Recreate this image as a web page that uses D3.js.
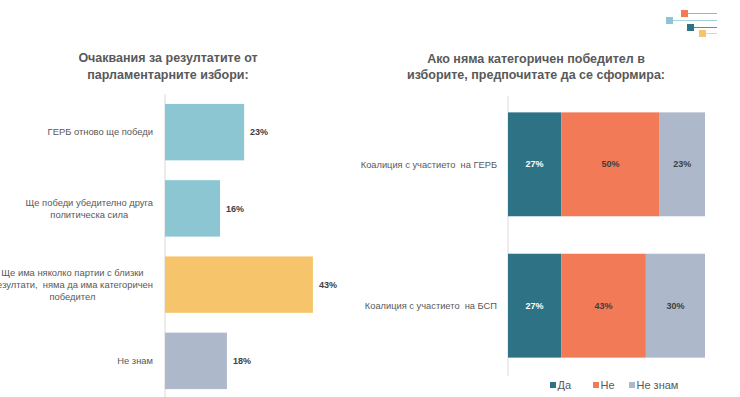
<!DOCTYPE html>
<html>
<head>
<meta charset="utf-8">
<script src="https://cdn.jsdelivr.net/npm/d3@7"></script>
<style>
  html, body { margin: 0; padding: 0; background: #fff; }
  svg { display: block; font-family: "Liberation Sans", Arial, sans-serif; }
  .pre { white-space: pre; }
</style>
</head>
<body>
<svg id="chart" width="740" height="397"></svg>
<script>
// left chart: expectations
const leftTitle = ['Очаквания за резултатите от', 'парламентарните избори:'];
const leftCategories = [
  ['ГЕРБ отново ще победи'],
  ['Ще победи убедително друга', 'политическа сила'],
  ['Ще има няколко партии с близки', 'резултати,  няма да има категоричен', 'победител'],
  ['Не знам'],
];
const leftValues = [23, 16, 43, 18];

// right chart: preferred coalition
const rightTitle = ['Ако няма категоричен победител в', 'изборите, предпочитате да се сформира:'];
const rightCategories = ['Коалиция с участието  на ГЕРБ', 'Коалиция с участието  на БСП'];
const seriesNames = ['Да', 'Не', 'Не знам'];
const daValues = [27, 27];
const neValues = [50, 43];
const neZnamValues = [23, 30];

const leftColors = ['#8bc6d2', '#8bc6d2', '#f6c56b', '#adb8ca'];
const seriesColors = ['#2e7385', '#f27a56', '#adb8ca'];
const labelColor = '#595959';
const valueColor = '#404040';

const svg = d3.select('#chart');

// ---- left bars
const lx = d3.scaleLinear().domain([0, 50]).range([165, 337]);
const ly = d3.scaleBand().domain(d3.range(leftValues.length)).range([94, 399]).paddingInner(0.26).paddingOuter(0.13);

svg.append('g').attr('font-size', 12.5).attr('font-weight', 'bold').attr('fill', labelColor)
  .attr('text-anchor', 'middle')
  .selectAll('text').data(leftTitle).join('text')
  .attr('x', 168).attr('y', (d, i) => 62 + i * 16.5).text(d => d);

svg.append('line').attr('x1', lx(0)).attr('x2', lx(0)).attr('y1', 94).attr('y2', 397)
  .attr('stroke', '#d9d9d9');

svg.append('g').selectAll('rect').data(leftValues).join('rect')
  .attr('x', lx(0)).attr('y', (d, i) => ly(i))
  .attr('width', d => lx(d) - lx(0)).attr('height', ly.bandwidth())
  .attr('fill', (d, i) => leftColors[i]);

svg.append('g').attr('font-size', 9).attr('font-weight', 'bold').attr('fill', valueColor)
  .selectAll('text').data(leftValues).join('text')
  .attr('x', d => lx(d) + 6).attr('y', (d, i) => ly(i) + ly.bandwidth() / 2)
  .attr('dy', '0.35em').text(d => d + '%');

const lblG = svg.append('g').attr('font-size', 9.4).attr('fill', labelColor);
leftCategories.forEach((lines, i) => {
  const g = lblG.append('g');
  const t = g.selectAll('text').data(lines).join('text').attr('class', 'pre')
    .attr('text-anchor', 'middle')
    .attr('y', (d, j) => ly(i) + ly.bandwidth() / 2 + (j - (lines.length - 1) / 2) * 12)
    .attr('dy', '0.35em').text(d => d);
  const w = d3.max(t.nodes(), n => n.getComputedTextLength());
  t.attr('x', 153 - w / 2);
});

// ---- right stacked bars
const rows = rightCategories.map((c, i) => ({ cat: c, 'Да': daValues[i], 'Не': neValues[i], 'Не знам': neZnamValues[i] }));
const stack = d3.stack().keys(seriesNames)(rows);

const rx = d3.scaleLinear().domain([0, 100]).range([508, 705]);
const ry = d3.scaleBand().domain(rightCategories).range([94, 376]).paddingInner(0.265).paddingOuter(0.13);

svg.append('g').attr('font-size', 12.5).attr('font-weight', 'bold').attr('fill', labelColor)
  .attr('text-anchor', 'middle')
  .selectAll('text').data(rightTitle).join('text')
  .attr('x', 536).attr('y', (d, i) => 63 + i * 16).text(d => d);

svg.append('line').attr('x1', rx(0)).attr('x2', rx(0)).attr('y1', 96).attr('y2', 376)
  .attr('stroke', '#d9d9d9');

const layers = svg.append('g').selectAll('g').data(stack).join('g')
  .attr('fill', (d, i) => seriesColors[i]);
layers.selectAll('rect').data(d => d).join('rect')
  .attr('x', d => rx(d[0])).attr('y', d => ry(d.data.cat))
  .attr('width', d => rx(d[1]) - rx(d[0])).attr('height', ry.bandwidth());

const valG = svg.append('g').attr('font-size', 9).attr('font-weight', 'bold').attr('text-anchor', 'middle');
stack.forEach((layer, i) => {
  valG.selectAll(null).data(layer).join('text')
    .attr('x', d => (rx(d[0]) + rx(d[1])) / 2)
    .attr('y', d => ry(d.data.cat) + ry.bandwidth() / 2)
    .attr('dy', '0.35em')
    .attr('fill', i === 0 ? '#ffffff' : valueColor)
    .text(d => (d[1] - d[0]) + '%');
});

svg.append('g').attr('font-size', 9.3).attr('fill', labelColor).attr('text-anchor', 'end')
  .selectAll('text').data(rightCategories).join('text').attr('class', 'pre')
  .attr('x', 497).attr('y', d => ry(d) + ry.bandwidth() / 2).attr('dy', '0.35em').text(d => d);

// legend
const legendX = [550, 593, 629];
const leg = svg.append('g').selectAll('g').data(seriesNames).join('g')
  .attr('transform', (d, i) => `translate(${legendX[i]},385)`);
leg.append('rect').attr('x', 0).attr('y', -3).attr('width', 6).attr('height', 6)
  .attr('fill', (d, i) => seriesColors[i]);
leg.append('text').attr('x', 7.5).attr('dy', '0.35em').attr('font-size', 11).attr('fill', labelColor)
  .text(d => d);

// logo mark, top right
const logo = svg.append('g');
const logoItems = [
  { x: 681, y: 10, c: '#f27a56' },
  { x: 666, y: 17, c: '#8bc6d2' },
  { x: 687, y: 24, c: '#2e7385' },
  { x: 699, y: 30, c: '#f6c56b' },
];
logoItems.forEach(o => {
  logo.append('line').attr('x1', o.x + 7).attr('x2', 717).attr('y1', o.y + 3.5).attr('y2', o.y + 3.5)
    .attr('stroke', o.c).attr('stroke-width', 0.8);
  logo.append('rect').attr('x', o.x).attr('y', o.y).attr('width', 7).attr('height', 7).attr('fill', o.c);
});
</script>
</body>
</html>
